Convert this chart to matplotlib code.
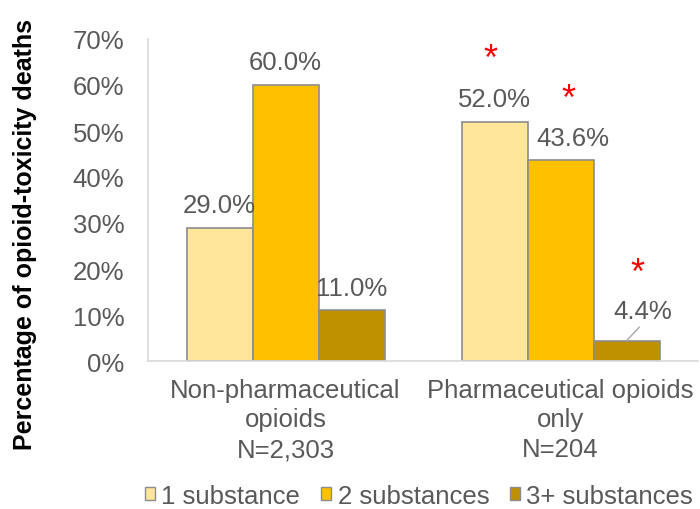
import numpy as np
import matplotlib.pyplot as plt
from matplotlib.patches import Patch

plt.rcParams['font.family'] = ['Liberation Sans', 'DejaVu Sans']

groups = ['Non-pharmaceutical\nopioids\nN=2,303', 'Pharmaceutical opioids\nonly\nN=204']
series = ['1 substance', '2 substances', '3+ substances']
values = [[29.0, 52.0],   # 1 substance
          [60.0, 43.6],   # 2 substances
          [11.0, 4.4]]    # 3+ substances
colors = ['#FFE699', '#FFC000', '#BF9000']

fig = plt.figure(figsize=(7, 5.1), dpi=100)
ax = fig.add_axes([148/700, 1-362/510, 550/700, 322/510])

x = np.arange(len(groups))
w = 0.24
grey = '#595959'
fs = 18.5
for i, (name, vals, c) in enumerate(zip(series, values, colors)):
    pos = x + (i - 1) * w
    ax.bar(pos, vals, w, color=c, edgecolor='#8c8c8c', linewidth=1.2, label=name)
    for j, (p, v) in enumerate(zip(pos, vals)):
        if i == 2 and j == 1:
            # small bar: label pushed up with a leader line
            ax.annotate(f'{v:.1f}%', xy=(p, v), xytext=(p + 0.06, v + 6.4),
                        ha='center', va='center', fontsize=fs, color=grey,
                        arrowprops=dict(arrowstyle='-', color='#a6a6a6', lw=1,
                                        shrinkA=1, shrinkB=0,
                                        relpos=(0.5, 0.0)))
        elif i == 1 and j == 1:
            ax.text(p + 0.045, v + 4.9, f'{v:.1f}%', ha='center', va='center',
                    fontsize=fs, color=grey)
        else:
            ax.text(p, v + 4.9, f'{v:.1f}%', ha='center', va='center',
                    fontsize=fs, color=grey)

# significance markers
stars = [(1 - w - 0.015, 65.5), (1 + 0.03, 56.8), (1 + w + 0.04, 19.1)]
for sx, sy in stars:
    ax.text(sx, sy, '*', ha='center', va='center', fontsize=26, color='#FF0000')

ax.set_xlim(-0.5, 1.5)
ax.set_ylim(0, 70)
ax.set_yticks(np.arange(0, 71, 10))
ax.set_yticklabels([f'{t}%' for t in range(0, 71, 10)])
ax.set_xticks(x)
ax.set_xticklabels(groups, linespacing=1.3)
ax.tick_params(axis='both', length=0, labelsize=fs, colors=grey)
ax.tick_params(axis='y', pad=17)
ax.tick_params(axis='x', pad=12)
for s in ['top', 'right']:
    ax.spines[s].set_visible(False)
for s in ['left', 'bottom']:
    ax.spines[s].set_color('#d9d9d9')
    ax.spines[s].set_linewidth(1.2)

fig.text(25/700, 1-235/510, 'Percentage of opioid-toxicity deaths', rotation=90,
         ha='center', va='center', fontsize=18, fontweight='bold', color='black')

handles = [Patch(facecolor=c, edgecolor='#8c8c8c', label=n) for n, c in zip(series, colors)]
fig.legend(handles=handles, loc='center', bbox_to_anchor=(419/700, 1-497/510), ncol=3,
           frameon=False, fontsize=fs, labelcolor=grey, handlelength=0.4,
           handleheight=0.4, handletextpad=0.25, columnspacing=0.8,
           borderpad=0, borderaxespad=0)

fig.savefig('out.png', dpi=100)
